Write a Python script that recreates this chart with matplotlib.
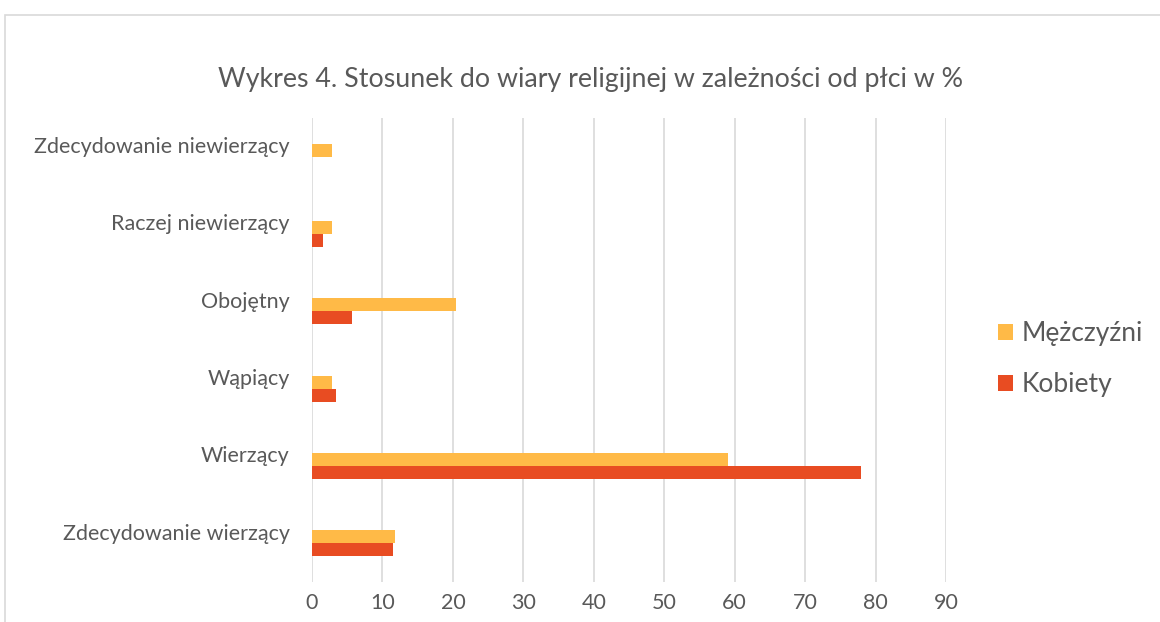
import numpy as np
import matplotlib.pyplot as plt
from matplotlib.patches import Rectangle

plt.rcParams['font.family'] = ['Lato', 'DejaVu Sans']

# Categories from bottom to top
categories = ['Zdecydowanie wierzący', 'Wierzący', 'Wąpiący', 'Obojętny',
              'Raczej niewierzący', 'Zdecydowanie niewierzący']
men = [11.8, 59.0, 2.9, 20.5, 2.9, 2.9]
women = [11.5, 78.0, 3.4, 5.7, 1.5, 0.0]
xticks = [0, 10, 20, 30, 40, 50, 60, 70, 80, 90]

c_men = '#FFBA47'
c_women = '#E84C22'
grid_c = '#D9D9D9'
text_c = '#595959'

fig = plt.figure(figsize=(11.6, 6.22), dpi=100)
W, H = 1160, 622
# chart frame (partially visible)
fig.patches.append(Rectangle((5 / W, -0.1), 1.2, 1 - 15 / H + 0.1, transform=fig.transFigure,
                             fill=False, edgecolor=grid_c, linewidth=1.2))

ax = fig.add_axes([312 / W, 1 - 582 / H, (946 - 312) / W, (582 - 118) / H])

y = np.arange(len(categories))
h = 0.167
ax.barh(y + h / 2, men, height=h, color=c_men, label='Mężczyźni', zorder=3)
ax.barh(y - h / 2, women, height=h, color=c_women, label='Kobiety', zorder=3)

ax.set_xlim(0, 90)
ax.set_ylim(-0.5, len(categories) - 0.5)
ax.set_xticks(xticks)
# Excel draws the category labels a bit above the bar pair
ax.set_yticks(y + 0.15)
ax.set_yticklabels(categories)
ax.grid(axis='x', color=grid_c, linewidth=1.2, zorder=0)
for s in ax.spines.values():
    s.set_visible(False)
ax.tick_params(axis='both', length=0, labelsize=15.5, colors=text_c)
ax.tick_params(axis='x', pad=8)
ax.tick_params(axis='y', pad=16)

fig.text(591 / W, 1 - 80 / H, 'Wykres 4. Stosunek do wiary religijnej w zależności od płci w %',
         ha='center', va='center', fontsize=19.3, color=text_c)

ax.legend(loc='center left', bbox_to_anchor=(1.045, 0.48), frameon=False, fontsize=19,
          labelcolor=text_c, handlelength=0.55, handleheight=0.55, labelspacing=1.0,
          handletextpad=0.35)

fig.savefig('out.png', dpi=100)
